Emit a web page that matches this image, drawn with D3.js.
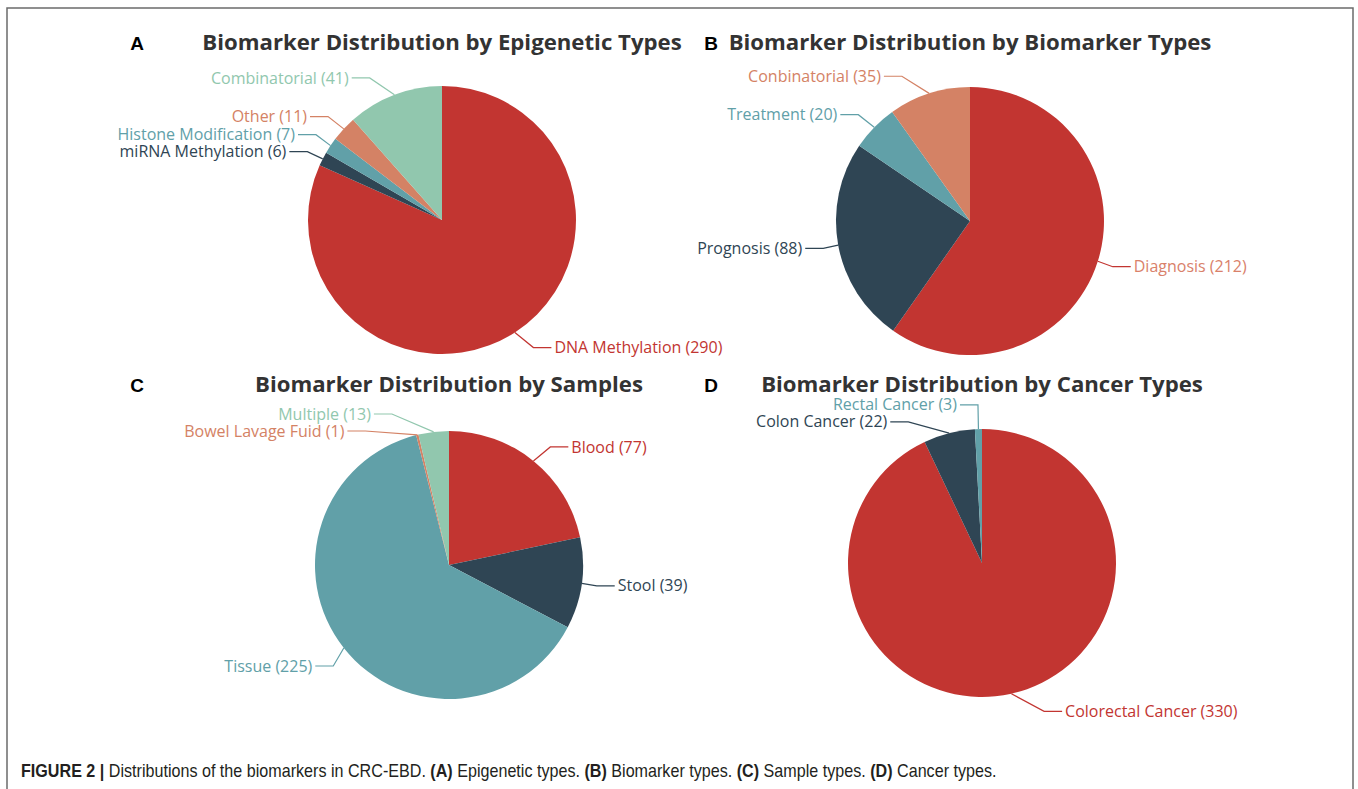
<!DOCTYPE html>
<html>
<head>
<meta charset="utf-8">
<script src="https://cdn.jsdelivr.net/npm/d3@7"></script>
<style>
  html, body { margin: 0; padding: 0; background: #fff; }
  svg { display: block; }
</style>
</head>
<body>
<div id="chart"></div>
<script>
// ---- data ----
const epiNames = ['DNA Methylation', 'miRNA Methylation', 'Histone Modification', 'Other', 'Combinatorial'];
const epiValues = [290, 6, 7, 11, 41];

const typeNames = ['Diagnosis', 'Prognosis', 'Treatment', 'Conbinatorial'];
const typeValues = [212, 88, 20, 35];

const sampleNames = ['Blood', 'Stool', 'Tissue', 'Bowel Lavage Fuid', 'Multiple'];
const sampleValues = [77, 39, 225, 1, 13];

const cancerNames = ['Colorectal Cancer', 'Colon Cancer', 'Rectal Cancer'];
const cancerValues = [330, 22, 3];

// echarts-like default palette
const palette = ['#c23531', '#2f4554', '#61a0a8', '#d48265', '#91c7ae'];

const W = 1358, H = 789;
const R = 134;           // pie radius
const LEN = 18, LEN2 = 18; // label line segments
const LH = 17;           // label height used for overlap shifting

const panels = [
  { letter: 'A', title: 'Biomarker Distribution by Epigenetic Types', cx: 442, cy: 220, lx: 137, ty: 50, names: epiNames, values: epiValues },
  { letter: 'B', title: 'Biomarker Distribution by Biomarker Types', cx: 970, cy: 221, lx: 711, ty: 50, names: typeNames, values: typeValues, labelColor: { 0: '#d9816a' } },
  { letter: 'C', title: 'Biomarker Distribution by Samples', cx: 449, cy: 565, lx: 137, ty: 392, names: sampleNames, values: sampleValues },
  { letter: 'D', title: 'Biomarker Distribution by Cancer Types', cx: 982, cy: 563, lx: 711, ty: 392, names: cancerNames, values: cancerValues }
];

const svg = d3.select('#chart').append('svg')
  .attr('width', W)
  .attr('height', H);

// figure frame (top / left / right)
svg.append('path')
  .attr('d', `M7,${H} V8 H1353 V${H}`)
  .attr('fill', 'none')
  .attr('stroke', '#6b6b6b')
  .attr('stroke-width', 1.5);

const pie = d3.pie().sort(null).value(d => d.value);
const arc = d3.arc().innerRadius(0).outerRadius(R);

// shift overlapping labels on one side, then re-place x on a circle
function layoutSide(list, side) {
  list.sort((u, v) => u.y - v.y);
  const n = list.length;

  function shiftUp(end, delta) {
    for (let j = end; j >= 0; j--) {
      list[j].y -= delta;
      if (j > 0 && list[j].y > list[j - 1].y + LH) break;
    }
  }
  function shiftDown(start, end, delta) {
    for (let j = start; j < end; j++) {
      list[j].y += delta;
      if (j > start && j + 1 < end && list[j + 1].y > list[j].y + LH) {
        shiftUp(j, delta / 2);
        return;
      }
    }
    shiftUp(end - 1, delta / 2);
  }

  let lastY = -Infinity;
  for (let i = 0; i < n; i++) {
    const delta = list[i].y - lastY;
    if (delta < 0) shiftDown(i, n, -delta);
    lastY = list[i].y + LH;
  }

  const R3 = R + LEN + LEN2;
  function changeX(ls, isDown) {
    let last = isDown ? Infinity : 0;
    ls.forEach(l => {
      const dy = Math.abs(l.y);
      let dx = dy < R + LEN ? Math.sqrt(R3 * R3 - dy * dy) : Math.abs(l.x);
      if (isDown && dx >= last) dx = last - 10;
      if (!isDown && dx <= last) dx = last + 10;
      l.x = side * dx;
      last = dx;
    });
  }
  changeX(list.filter(l => l.y < 0), false);
  changeX(list.filter(l => l.y >= 0), true);
}

panels.forEach(p => {
  const g = svg.append('g');
  const data = p.names.map((n, i) => ({ name: n, value: p.values[i], color: palette[i % palette.length], idx: i }));
  const arcs = pie(data);

  // panel letter
  g.append('text')
    .attr('x', p.lx)
    .attr('y', p.ty)
    .attr('text-anchor', 'middle')
    .attr('font-family', 'Liberation Sans, Arial, sans-serif')
    .attr('font-weight', 'bold')
    .attr('font-size', 19)
    .attr('fill', '#000')
    .text(p.letter);

  // title
  g.append('text')
    .attr('x', p.cx)
    .attr('y', p.ty)
    .attr('text-anchor', 'middle')
    .attr('font-family', 'Open Sans, Noto Sans, sans-serif')
    .attr('font-weight', 'bold')
    .attr('font-size', 22.2)
    .attr('fill', '#333')
    .text(p.title);

  const pieG = g.append('g').attr('transform', `translate(${p.cx},${p.cy})`);
  pieG.selectAll('path.slice')
    .data(arcs)
    .enter()
    .append('path')
    .attr('class', 'slice')
    .attr('d', arc)
    .attr('fill', d => d.data.color);

  // default label positions
  const labels = arcs.map(a => {
    const mid = (a.startAngle + a.endAngle) / 2;
    const sx = Math.sin(mid), sy = -Math.cos(mid);
    const side = sx >= 0 ? 1 : -1;
    const x2 = sx * (R + LEN);
    return {
      a,
      side,
      x0: sx * R, y0: sy * R,
      x: x2 + side * (LEN2 + 3),
      y: sy * (R + LEN)
    };
  });

  [-1, 1].forEach(side => layoutSide(labels.filter(l => l.side === side), side));

  labels.forEach(l => {
    const col = (p.labelColor && p.labelColor[l.a.data.idx]) || l.a.data.color;
    const xEnd = l.x - l.side * 3;
    const xElbow = xEnd - l.side * LEN2;
    pieG.append('polyline')
      .attr('points', `${l.x0},${l.y0} ${xElbow},${l.y} ${xEnd},${l.y}`)
      .attr('fill', 'none')
      .attr('stroke', l.a.data.color)
      .attr('stroke-width', 1.2);
    pieG.append('text')
      .attr('x', l.x)
      .attr('y', l.y)
      .attr('dy', '0.35em')
      .attr('text-anchor', l.side > 0 ? 'start' : 'end')
      .attr('font-family', 'Open Sans, Noto Sans, sans-serif')
      .attr('font-size', 16)
      .attr('fill', col)
      .text(`${l.a.data.name} (${l.a.data.value})`);
  });
});

// caption (condensed face simulated with a horizontal scale)
const cap = svg.append('text')
  .attr('transform', 'translate(21,777) scale(0.896,1)')
  .attr('font-family', 'Liberation Sans, Arial, sans-serif')
  .attr('font-size', 18)
  .attr('fill', '#231f20');
cap.append('tspan').attr('font-weight', 'bold').text('FIGURE 2 | ');
cap.append('tspan').text('Distributions of the biomarkers in CRC-EBD. ');
cap.append('tspan').attr('font-weight', 'bold').text('(A)');
cap.append('tspan').text(' Epigenetic types. ');
cap.append('tspan').attr('font-weight', 'bold').text('(B)');
cap.append('tspan').text(' Biomarker types. ');
cap.append('tspan').attr('font-weight', 'bold').text('(C)');
cap.append('tspan').text(' Sample types. ');
cap.append('tspan').attr('font-weight', 'bold').text('(D)');
cap.append('tspan').text(' Cancer types.');
</script>
</body>
</html>
